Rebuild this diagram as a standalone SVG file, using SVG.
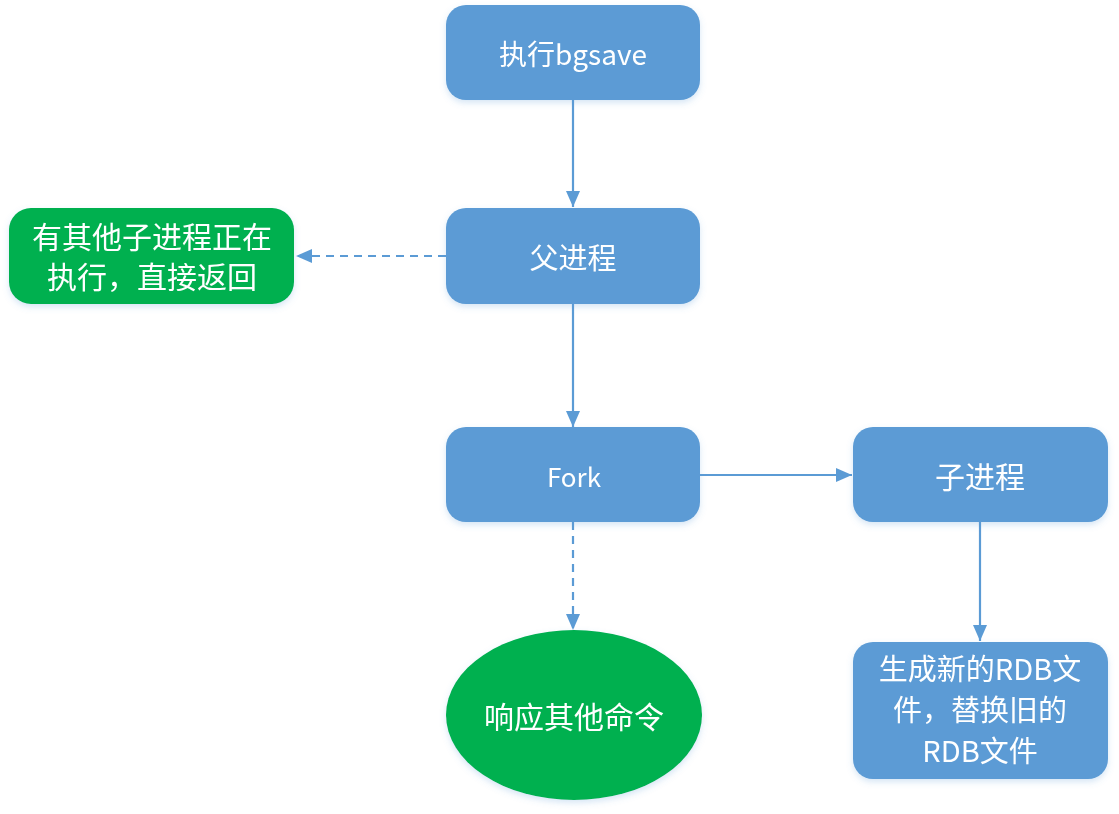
<svg xmlns="http://www.w3.org/2000/svg" width="1119" height="814" viewBox="0 0 1119 814">
<style>
.b{fill:#5B9BD5;}
.g{fill:#00B050;}
.t{fill:#fff;font-family:"Noto Sans CJK SC","Noto Sans",sans-serif;text-anchor:middle;dominant-baseline:central;}
.c{stroke:#5B9BD5;stroke-width:2.2;fill:none;}
.d{stroke-dasharray:8,6;}
</style>
<defs>
<marker id="a" viewBox="0 0 16 14" refX="16" refY="7" markerWidth="16" markerHeight="14" markerUnits="userSpaceOnUse" orient="auto">
<path d="M0,0 L16,7 L0,14 Z" fill="#5B9BD5"/>
</marker>
<filter id="s" x="-10%" y="-10%" width="120%" height="130%">
<feDropShadow dx="0" dy="3" stdDeviation="3" flood-color="#5B9BD5" flood-opacity="0.25"/>
</filter>
</defs>
<g id="connectors">
<line class="c" x1="573" y1="100" x2="573" y2="207" marker-end="url(#a)"/>
<line class="c d" x1="446" y1="256" x2="296" y2="256" marker-end="url(#a)"/>
<line class="c" x1="573" y1="304" x2="573" y2="427" marker-end="url(#a)"/>
<line class="c" x1="700" y1="475" x2="852" y2="475" marker-end="url(#a)"/>
<line class="c d" x1="573" y1="522" x2="573" y2="630" marker-end="url(#a)"/>
<line class="c" x1="980" y1="522" x2="980" y2="641" marker-end="url(#a)"/>
</g>
<g id="n1" filter="url(#s)"><rect class="b" x="446" y="5" width="254" height="95" rx="20"/><text class="t" x="573" y="53" font-size="28">执行bgsave</text></g>
<g id="n2" filter="url(#s)"><rect class="b" x="446" y="208" width="254" height="96" rx="20"/><text class="t" x="573" y="256" font-size="29">父进程</text></g>
<g id="n3" filter="url(#s)"><rect class="g" x="9" y="208" width="285" height="96" rx="22"/><text class="t" x="152" y="235" font-size="30">有其他子进程正在</text><text class="t" x="152" y="275" font-size="30">执行，直接返回</text></g>
<g id="n4" filter="url(#s)"><rect class="b" x="446" y="427" width="254" height="95" rx="20"/><text class="t" x="574" y="475" font-size="26">Fork</text></g>
<g id="n5" filter="url(#s)"><rect class="b" x="853" y="427" width="255" height="95" rx="20"/><text class="t" x="980" y="475" font-size="30">子进程</text></g>
<g id="n6" filter="url(#s)"><ellipse class="g" cx="574" cy="715" rx="128" ry="85"/><text class="t" x="574" y="715" font-size="30">响应其他命令</text></g>
<g id="n7" filter="url(#s)"><rect class="b" x="853" y="642" width="255" height="137" rx="20"/><text class="t" x="980" y="667" font-size="29">生成新的RDB文</text><text class="t" x="980" y="708" font-size="29">件，替换旧的</text><text class="t" x="980" y="749" font-size="29">RDB文件</text></g>
</svg>
